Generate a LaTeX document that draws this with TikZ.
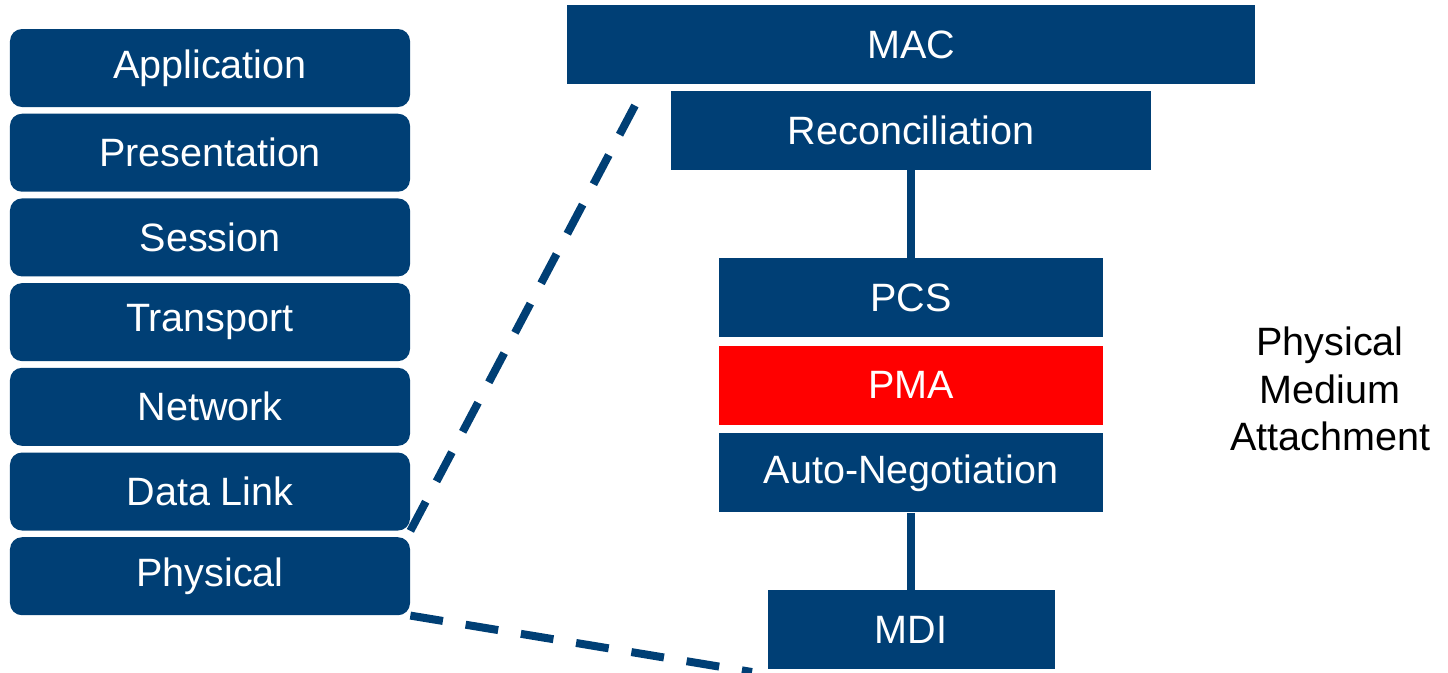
\documentclass[tikz,border=0pt]{standalone}
\usepackage{fontspec}
\setmainfont{Liberation Sans}
\usepackage{tikz}
\usetikzlibrary{positioning}
\definecolor{osiblue}{RGB}{0,63,117}
\definecolor{pmared}{RGB}{255,0,0}

\begin{document}
\begin{tikzpicture}[node distance=0.12cm,
    font=\fontsize{22.5}{27}\selectfont]
\tikzstyle{osilayer}=[fill=osiblue,draw=none,text=white,rounded corners=0.24cm,
    minimum width=8cm,minimum height=1.56cm,inner sep=0pt]
\tikzstyle{sublayer}=[fill=osiblue,draw=none,text=white,
    minimum height=1.58cm,inner sep=0pt]
\tikzstyle{zoomline}=[osiblue,line width=0.16cm,dash pattern=on 0.66cm off 0.46cm]
\tikzstyle{stackline}=[osiblue,line width=0.16cm]

\useasboundingbox (0,0) rectangle (28.96,-13.44);

% OSI stack
\node[osilayer] (app) at (4.2,-1.36) {Application};
\node[osilayer] (pres) [below=of app] {Presentation};
\node[osilayer] (sess) [below=of pres] {Session};
\node[osilayer] (trans) [below=of sess] {Transport};
\node[osilayer] (net) [below=of trans] {Network};
\node[osilayer] (dl) [below=of net] {Data Link};
\node[osilayer] (phy) [below=of dl] {Physical};

% Ethernet sublayers
\node[sublayer,minimum width=13.76cm] (mac) at (18.22,-0.89) {MAC};
\node[sublayer,minimum width=9.6cm] (rs) at (18.22,-2.61) {Reconciliation};
\node[sublayer,minimum width=7.68cm] (pcs) at (18.22,-5.95) {PCS};
\node[sublayer,minimum width=7.68cm,fill=pmared] (pma) [below=0.16cm of pcs] {PMA};
\node[sublayer,minimum width=7.68cm] (an) [below=0.16cm of pma] {Auto-Negotiation};
\node[sublayer,minimum width=5.74cm] (mdi) at (18.22,-12.59) {MDI};

\node[align=center] (pmatext) at (26.6,-7.78) {Physical\\Medium\\Attachment};

\coordinate (zoomtop) at (12.8,-1.92);
\coordinate (zoombot) at (15.04,-13.44);

\draw[stackline] (rs) -- (pcs);
\draw[stackline] (an) -- (mdi);
\draw[zoomline] (dl.south east) -- (zoomtop);
\draw[zoomline] (phy.south east) -- (zoombot);
\end{tikzpicture}
\end{document}
